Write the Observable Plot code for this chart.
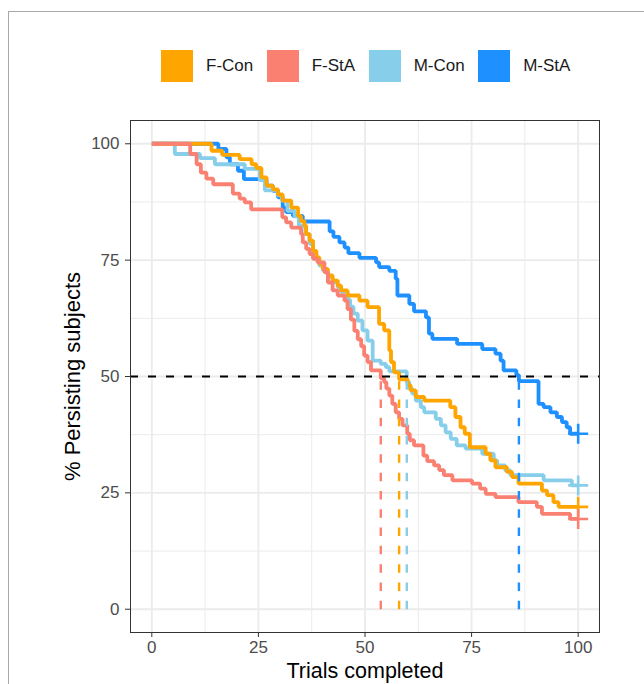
<!DOCTYPE html>
<html>
<head>
<meta charset="utf-8">
<script src="https://cdn.jsdelivr.net/npm/d3@7"></script>
<script src="https://cdn.jsdelivr.net/npm/@observablehq/plot@0.6"></script>
<style>
  html, body { margin: 0; background: #fff; overflow: hidden; font-family: "Liberation Sans", Arial, sans-serif; }
  #frame { position: absolute; left: 8px; top: 11px; width: 636px; height: 673px; box-sizing: border-box;
           border-top: 1px solid #a8a8a8; border-left: 1px solid #a8a8a8; }
  #legend { position: absolute; top: 50px; left: 161px; display: flex; align-items: center;
            font-size: 17px; color: #1a1a1a; }
  .item { display: flex; align-items: center; margin-right: 13.5px; }
  .sw { width: 32px; height: 32px; margin-right: 13px; }
  #chart { position: absolute; top: 100px; left: 0; }
</style>
</head>
<body>
<div id="frame"></div>
<div id="legend"></div>
<div id="chart"></div>
<script>
// Groups and their colours
const groups = ["F-Con", "F-StA", "M-Con", "M-StA"];
const colors = ["#FFA500", "#FA8072", "#87CEEB", "#1E90FF"];

// Kaplan–Meier steps: trial number at each step and % still persisting after it
const fConTime = [0, 14, 16.5, 20.6, 23.4, 24.5, 25.7, 26.9, 28.4, 29.6, 30.7, 32.7, 34.3, 35.0, 35.8, 36.2, 37.0, 37.8, 38.6, 39.3, 40.1, 41.3, 42.4, 43.6, 44.4, 45.9, 48.7, 50.6, 53.3, 54.5, 55.7, 56.1, 56.8, 58.0, 60.0, 60.7, 61.9, 63.9, 70.0, 71.2, 72.4, 73.4, 74.6, 78.3, 79.4, 80.6, 83.3, 84.5, 86.0, 91.5, 92.7, 94.2, 95.4, 100];
const fConSurv = [100, 98.5, 97.6, 96.7, 95.6, 94.8, 92.8, 91.0, 90.2, 89.1, 87.8, 86.3, 84.5, 83.4, 82.4, 80.6, 79.2, 77.0, 75.6, 74.2, 73.1, 71.7, 70.6, 69.5, 68.5, 67.4, 66.3, 64.9, 61.3, 59.9, 55.6, 53.1, 50.9, 49.4, 48.1, 47.0, 45.6, 44.8, 43.4, 41.3, 39.1, 37.7, 34.8, 33.4, 32.0, 30.5, 29.5, 28.4, 27.0, 25.5, 24.5, 23.0, 22.0, 22.0];

const fStaTime = [0, 9.0, 10.5, 11.5, 12.8, 14.4, 19.0, 20.6, 21.8, 23.3, 30.6, 31.5, 32.7, 35.0, 35.4, 36.2, 37.0, 37.8, 38.9, 40.5, 41.3, 42.4, 43.6, 45.2, 45.9, 46.7, 47.5, 48.3, 49.1, 49.8, 50.6, 51.4, 53.7, 54.5, 55.0, 55.7, 56.4, 57.2, 58.0, 58.8, 59.9, 60.5, 61.5, 63.7, 64.6, 66.2, 67.4, 68.5, 70.5, 75.1, 77.0, 78.3, 80.6, 86.0, 90.3, 91.5, 98.1, 100];
const fStaSurv = [100, 97.8, 95.6, 93.8, 92.5, 91.3, 89.3, 88.2, 87.4, 85.9, 84.2, 83.1, 82.0, 80.6, 78.8, 77.4, 76.3, 75.3, 74.5, 72.4, 70.2, 68.5, 67.4, 66.3, 64.5, 62.2, 59.8, 58.0, 56.5, 54.5, 53.1, 51.3, 49.6, 48.8, 47.4, 45.9, 44.1, 42.3, 40.9, 39.5, 37.7, 36.3, 35.2, 33.0, 31.8, 30.9, 29.9, 28.8, 27.7, 27.0, 25.9, 24.8, 24.1, 23.0, 22.0, 20.5, 19.4, 19.4];

const mConTime = [0, 5.4, 11.3, 14.8, 21.8, 25.3, 26.5, 29.5, 30.5, 31.8, 33.5, 34.5, 36.0, 37.0, 37.8, 38.6, 39.3, 40.1, 41.3, 42.4, 43.6, 44.4, 45.9, 46.5, 47.3, 48.3, 49.4, 50.6, 51.8, 53.7, 54.9, 55.7, 59.8, 60.4, 61.1, 61.9, 63.1, 63.9, 66.6, 67.8, 68.9, 70.1, 71.5, 73.6, 77.5, 80.2, 81.0, 82.9, 84.1, 91.9, 98.5, 100];
const mConSurv = [100, 97.8, 96.9, 95.6, 94.6, 92.2, 90.0, 88.9, 87.8, 85.6, 84.4, 82.4, 80.6, 78.5, 76.5, 75.0, 73.8, 72.8, 71.4, 70.3, 69.2, 68.2, 66.5, 65.0, 63.5, 62.0, 59.9, 57.7, 53.4, 52.7, 52.0, 51.1, 48.8, 47.4, 46.3, 44.8, 43.4, 42.3, 40.9, 39.5, 38.0, 36.6, 35.2, 34.5, 33.4, 32.0, 30.9, 29.8, 28.8, 27.7, 26.6, 26.6];

const mStaTime = [0, 15.6, 17.5, 18.3, 20.2, 21.6, 26.9, 28.4, 29.6, 30.7, 31.5, 33.1, 35.4, 41.7, 42.6, 44.0, 45.2, 46.1, 48.7, 52.6, 53.3, 55.7, 57.2, 57.6, 60.4, 61.5, 64.3, 65.0, 65.8, 71.6, 77.5, 80.6, 81.8, 82.5, 85.5, 86.1, 90.7, 91.9, 93.5, 95.0, 96.2, 97.3, 98.1, 100];
const mStaSurv = [100, 98.9, 97.1, 95.6, 94.2, 92.4, 91.0, 89.9, 88.5, 86.3, 85.3, 84.5, 83.3, 81.2, 80.0, 78.8, 77.7, 76.5, 75.5, 74.5, 73.5, 72.7, 71.0, 67.4, 65.6, 64.0, 62.7, 59.2, 58.1, 57.0, 55.9, 54.9, 53.4, 51.3, 50.3, 49.0, 44.1, 43.4, 42.3, 41.3, 40.2, 39.1, 37.7, 37.7];

// Median persistence (trials) per group
const medians = [58.0, 53.7, 59.8, 86.1];

const xTicks = [0, 25, 50, 75, 100];
const yTicks = [0, 25, 50, 75, 100];
const minorTicks = [12.5, 37.5, 62.5, 87.5];

const times = [fConTime, fStaTime, mConTime, mStaTime];
const survs = [fConSurv, fStaSurv, mConSurv, mStaSurv];
const series = groups.map((g, i) => ({
  group: g,
  color: colors[i],
  median: medians[i],
  rows: times[i].map((t, j) => ({t, s: survs[i][j]}))
}));

// Legend
const legend = document.getElementById("legend");
for (const s of series) {
  const item = document.createElement("div");
  item.className = "item";
  const sw = document.createElement("div");
  sw.className = "sw";
  sw.style.background = s.color;
  const label = document.createElement("span");
  label.textContent = s.group;
  item.append(sw, label);
  legend.append(item);
}

// Draw order: M-StA at the bottom, F-StA on top
const drawOrder = [3, 2, 0, 1].map(i => series[i]);

const chart = Plot.plot({
  width: 644,
  height: 584,
  marginTop: 20,
  marginBottom: 52,
  marginLeft: 130,
  marginRight: 45,
  style: {fontFamily: "Liberation Sans, Arial, sans-serif", background: "transparent", overflow: "visible"},
  x: {domain: [-5, 105]},
  y: {domain: [-5, 105]},
  marks: [
    Plot.ruleX(minorTicks, {stroke: "#ebebeb", strokeWidth: 1}),
    Plot.ruleY(minorTicks, {stroke: "#ebebeb", strokeWidth: 1}),
    Plot.ruleX(xTicks, {stroke: "#ebebeb", strokeWidth: 1.8}),
    Plot.ruleY(yTicks, {stroke: "#ebebeb", strokeWidth: 1.8}),
    ...drawOrder.map(s => Plot.line(s.rows, {
      x: "t", y: "s", curve: "step-after", stroke: s.color, strokeWidth: 3.8,
      strokeLinejoin: "miter", strokeLinecap: "butt"
    })),
    ...drawOrder.map(s => Plot.dot(s.rows.slice(-1), {
      x: "t", y: "s", symbol: "plus", r: 6.5, stroke: s.color, strokeWidth: 2.6
    })),
    ...series.map(s => Plot.link([s.median], {
      x1: d => d, x2: d => d, y1: 0, y2: 50,
      stroke: s.color, strokeWidth: 2.4, strokeDasharray: "8.5,9.8"
    })),
    Plot.ruleY([50], {stroke: "#000", strokeWidth: 2, strokeDasharray: "8,10"}),
    Plot.frame({stroke: "#333", strokeWidth: 1}),
    Plot.axisX(xTicks, {tickSize: 5, tickPadding: 3, fontSize: 17, stroke: "#333", fill: "#4d4d4d", label: null}),
    Plot.axisY(yTicks, {tickSize: 5, tickPadding: 6, fontSize: 17, stroke: "#333", fill: "#4d4d4d", label: null}),
    Plot.text(["Trials completed"], {
      text: d => d, frameAnchor: "bottom", dy: 39, fontSize: 21.5,
      textAnchor: "middle", lineAnchor: "middle", fill: "#000"
    }),
    Plot.text(["% Persisting subjects"], {
      text: d => d, frameAnchor: "left", dx: -58, rotate: -90, fontSize: 22,
      textAnchor: "middle", lineAnchor: "middle", fill: "#000"
    })
  ]
});
document.getElementById("chart").append(chart);
</script>
</body>
</html>
